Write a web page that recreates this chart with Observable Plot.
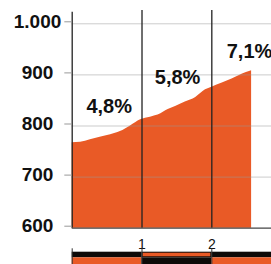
<!DOCTYPE html>
<html>
<head>
<meta charset="utf-8">
<script src="https://cdn.jsdelivr.net/npm/d3@7"></script>
<script src="https://cdn.jsdelivr.net/npm/@observablehq/plot@0.6"></script>
<style>
  html, body { margin: 0; padding: 0; background: #fff; }
  #chart svg { display: block; }
</style>
</head>
<body>
<div id="chart"></div>
<script>
// Elevation profile (km, metres)
const distanceKm = [0, 0.12, 0.26, 0.40, 0.55, 0.69, 0.835, 0.98, 1.12, 1.19, 1.27, 1.34, 1.48, 1.62, 1.77, 1.91, 2.0, 2.15, 2.29, 2.44, 2.55, 2.57];
const elevationM = [767, 768, 773, 778, 783, 789, 800, 812, 817, 820, 824, 830, 838, 847, 856, 871, 876, 884, 892, 902, 907, 908];

// Gradient labels
const gradientLabels = ["4,8%", "5,8%", "7,1%"];
const gradientX = [0.53, 1.51, 2.54];
const gradientY = [826, 883, 934];

// Axes
const yTicks = [600, 700, 800, 900, 1000];
const yTickLabels = ["600", "700", "800", "900", "1.000"];
const kmMarks = [1, 2];
const kmLabels = ["1", "2"];

// Scale bar segment boundaries (km)
const scaleBounds = [0, 1, 2, 2.86];

const profile = distanceKm.map((d, i) => ({d, e: elevationM[i]}));
const labels = gradientLabels.map((t, i) => ({t, x: gradientX[i], y: gradientY[i]}));
const segs = scaleBounds.slice(0, -1).map((b, i) => ({x1: b, x2: scaleBounds[i + 1], i}));

const W = 271, H = 264;
const plotTop = 23.3, plotBottom = 227.7;
const pxPerUnit = (plotBottom - plotTop) / 400;
const yAt = p => 600 + (plotBottom - p) / pxPerUnit; // pixel row -> elevation units for decorations

const orange = "#e95a26";
const dark = "#222";

const chart = Plot.plot({
  width: W,
  height: H,
  marginLeft: 71.7,
  marginRight: 0,
  marginTop: plotTop,
  marginBottom: H - plotBottom,
  style: {fontFamily: "'Liberation Sans', Arial, sans-serif", background: "#fff", overflow: "visible"},
  x: {domain: [0, 2.855]},
  y: {domain: [600, 1000]},
  marks: [
    Plot.areaY(profile, {x: "d", y1: 600, y2: "e", fill: orange, curve: "monotone-x"}),
    Plot.ruleY([700, 800, 900, 1000], {stroke: "#999", strokeOpacity: 0.5, strokeWidth: 1}),
    Plot.ruleX(kmMarks, {y1: 600, y2: yAt(10), stroke: dark, strokeWidth: 1.3}),
    Plot.ruleX([0], {y1: 600, y2: yAt(11.7), stroke: dark, strokeWidth: 1.3}),
    Plot.ruleY([600], {stroke: "#444", strokeWidth: 1.3}),
    Plot.axisY({
      ticks: yTicks,
      tickFormat: (d) => yTickLabels[yTicks.indexOf(d)],
      tickSize: 7.4,
      tickPadding: 27.3,
      textAnchor: "middle",
      dy: -2,
      stroke: "#999",
      fontSize: 19,
      fontWeight: "bold",
      fill: "#111",
      label: null
    }),
    Plot.axisX({
      ticks: kmMarks,
      tickFormat: d => kmLabels[kmMarks.indexOf(d)],
      tickSize: 0,
      tickPadding: 11,
      fontSize: 14,
      fill: "#111",
      label: null
    }),
    Plot.text(labels, {x: "x", y: "y", text: "t", fontSize: 20, fontWeight: "bold", fill: "#111", textAnchor: "middle", lineAnchor: "bottom"}),
    // scale bar: top row
    Plot.rect(segs, {x1: "x1", x2: "x2", y1: yAt(257.3), y2: yAt(251.7), fill: "#0d0a08"}),
    Plot.rect(segs.filter(s => s.i % 2 === 1), {x1: "x1", x2: "x2", y1: yAt(257.3), y2: yAt(251.7), fill: orange, inset: 1}),
    // bottom row
    Plot.rect(segs, {x1: "x1", x2: "x2", y1: yAt(264), y2: yAt(257.3), fill: s => s.i % 2 === 1 ? "#0d0a08" : orange}),
    Plot.ruleX(scaleBounds.slice(0, 3), {y1: yAt(264), y2: yAt(248.3), stroke: "#333", strokeWidth: 1})
  ]
});
document.getElementById("chart").appendChild(chart);
</script>
</body>
</html>
